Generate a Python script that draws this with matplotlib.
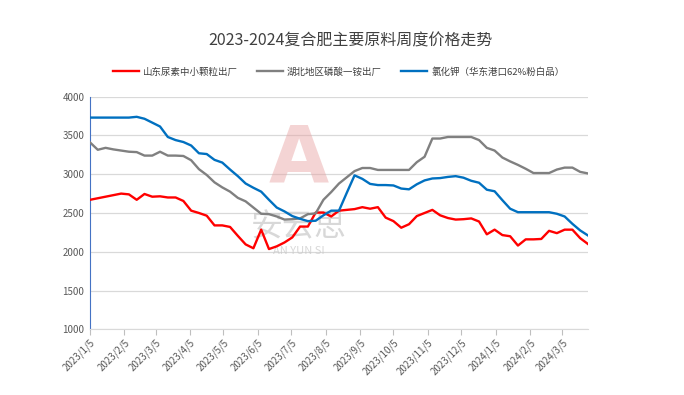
import pandas as pd
import matplotlib.pyplot as plt
import numpy as np

plt.rcParams['font.family'] = ['Noto Sans CJK SC', 'DejaVu Sans']

# Data (weekly, from 2023/1/5)
start_date = "2023-01-05"
urea = [2670, 2690, 2710, 2730, 2750, 2740, 2670, 2745, 2710, 2715,
        2700, 2700, 2655, 2530, 2500, 2465, 2340, 2340, 2320, 2205,
        2095, 2045, 2285, 2035, 2070, 2120, 2185, 2325, 2325, 2505,
        2505, 2455, 2530, 2540, 2550, 2575, 2555, 2575, 2440, 2395,
        2310, 2355, 2460, 2500, 2540, 2470, 2435, 2415, 2420, 2430,
        2390, 2225, 2285, 2215, 2200, 2080, 2160, 2160, 2165, 2270,
        2240, 2285, 2285, 2175, 2100]
map_price = [3410, 3315, 3340, 3320, 3305, 3290, 3285, 3240, 3240, 3290,
             3240, 3240, 3235, 3180, 3065, 2990, 2895, 2830, 2775, 2695,
             2650, 2570, 2490, 2485, 2455, 2415, 2420, 2430, 2485, 2495,
             2670, 2770, 2880, 2960, 3040, 3080, 3080, 3055, 3055, 3055,
             3055, 3055, 3155, 3225, 3460, 3460, 3480, 3480, 3480, 3480,
             3440, 3340, 3305, 3215, 3165, 3120, 3070, 3015, 3015, 3015,
             3060, 3085, 3085, 3030, 3010]
potash = [3730, 3730, 3730, 3730, 3730, 3730, 3740, 3715, 3665, 3615,
          3480, 3440, 3415, 3370, 3270, 3260, 3185, 3150, 3060, 2975,
          2880, 2825, 2775, 2670, 2570, 2520, 2460, 2425, 2395, 2400,
          2470, 2530, 2530, 2760, 2985, 2940, 2875, 2860, 2860, 2855,
          2815, 2805, 2870, 2920, 2945, 2950, 2965, 2975, 2955, 2915,
          2890, 2800, 2780, 2665, 2555, 2510, 2510, 2510, 2510, 2510,
          2490, 2455, 2360, 2275, 2210]
labels = ["山东尿素中小颗粒出厂", "湖北地区磷酸一铵出厂", "氯化钾（华东港口62%粉白品）"]
colors = ['#ff0000', '#808080', '#0070c0']

dates = pd.date_range(start_date, periods=len(urea), freq='7D')
tick_dates = pd.date_range("2023-01-01", "2024-03-01", freq='MS') + pd.Timedelta(days=4)

fig = plt.figure(figsize=(6.84, 3.95), dpi=100)
ax = fig.add_axes([0.1316, 0.1663, 0.728, 0.589])

for series, lab, c in zip([urea, map_price, potash], labels, colors):
    ax.plot(dates, series, color=c, lw=1.7, label=lab, solid_joinstyle='round', zorder=3)

ax.set_ylim(1000, 4000)
ax.set_yticks(np.arange(1000, 4001, 500))
ax.set_xlim(dates[0], dates[-1])
ax.set_xticks(tick_dates)
ax.set_xticklabels([f"{d.year}/{d.month}/{d.day}" for d in tick_dates],
                   rotation=45, ha='right', rotation_mode='anchor')
ax.grid(axis='y', color='#d9d9d9', lw=0.9)
ax.set_axisbelow(True)

for s in ['top', 'right']:
    ax.spines[s].set_visible(False)
ax.spines['left'].set_color('#4472c4')
ax.spines['bottom'].set_color('#d9d9d9')
ax.tick_params(axis='y', length=0, labelsize=7, labelcolor='#595959', pad=4)
ax.tick_params(axis='x', length=4, color='#bfbfbf', labelsize=7, labelcolor='#595959', pad=2)

# watermark (behind the lines)
ax.text(0.42, 0.73, "A", transform=ax.transAxes, fontsize=56, fontweight='bold',
        color='#e8a0a0', alpha=0.45, ha='center', va='center', family='DejaVu Sans', zorder=1)
ax.text(0.42, 0.44, "安云思", transform=ax.transAxes, fontsize=23,
        color='#c8c8c8', alpha=0.7, ha='center', va='center', zorder=1)
ax.text(0.42, 0.335, "AN YUN SI", transform=ax.transAxes, fontsize=8,
        color='#c8c8c8', alpha=0.7, ha='center', va='center', zorder=1)

fig.text(0.512, 0.897, "2023-2024复合肥主要原料周度价格走势", ha='center', va='center',
         fontsize=11.5, color='#404040')
fig.legend(loc='center', bbox_to_anchor=(0.495, 0.818), ncol=3, frameon=False,
           fontsize=6.8, handlelength=2.8, columnspacing=2.0, handletextpad=0.4,
           labelcolor='#404040')

fig.savefig("out.png", dpi=100)
